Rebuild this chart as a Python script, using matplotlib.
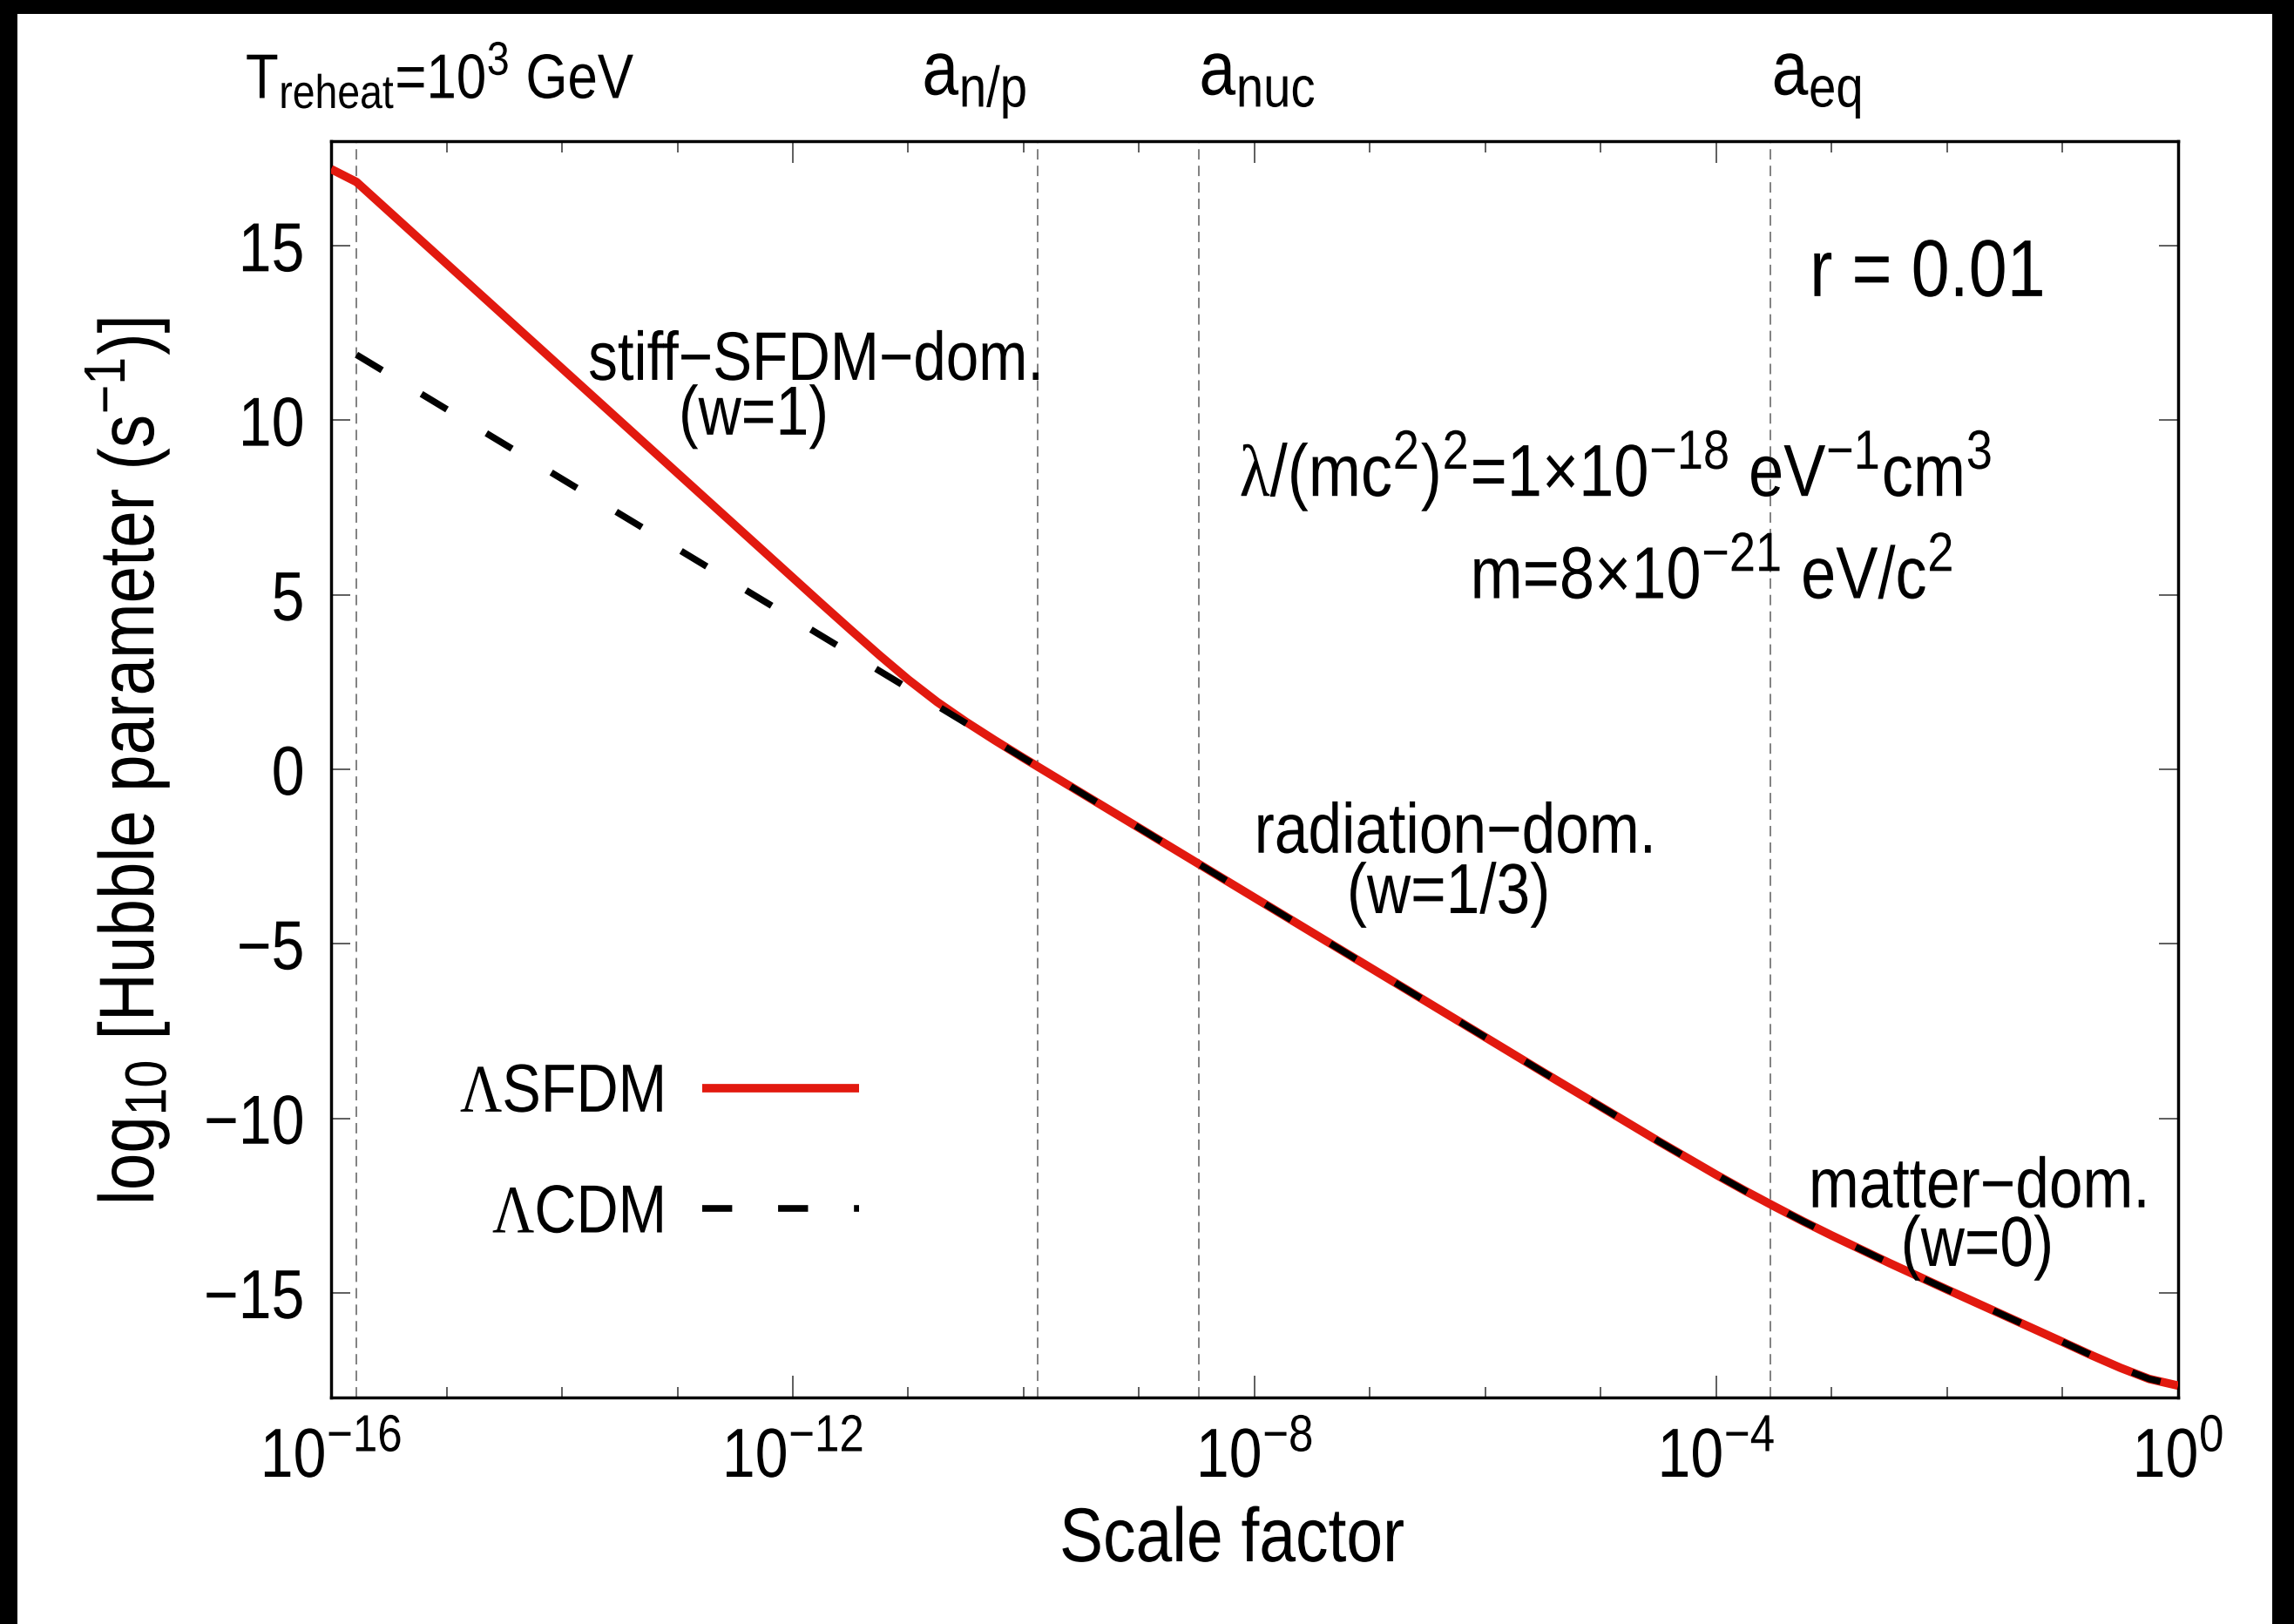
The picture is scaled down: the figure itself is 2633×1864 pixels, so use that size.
import numpy as np
import matplotlib
matplotlib.use("Agg")
import matplotlib.pyplot as plt
import matplotlib._mathtext as _mathtext
from matplotlib.patches import Rectangle
from matplotlib.patheffects import AbstractPathEffect
from matplotlib.transforms import Affine2D
from matplotlib.ticker import FixedLocator, LogFormatterMathtext

# slightly larger super/subscripts than the mathtext default
_mathtext.SHRINK_FACTOR = 0.75

plt.rcParams["font.family"] = ["Liberation Sans", "DejaVu Sans"]
plt.rcParams["mathtext.fontset"] = "custom"
plt.rcParams["mathtext.rm"] = "Liberation Sans"
plt.rcParams["mathtext.it"] = "Liberation Sans:italic"
plt.rcParams["mathtext.bf"] = "Liberation Sans:bold"
plt.rcParams["mathtext.cal"] = "Liberation Serif"
plt.rcParams["mathtext.default"] = "regular"

# ---- data: log10(scale factor) and log10(H / s^-1) ----
sfdm_loga = [-16.0, -15.78, -15.5, -15.0, -14.5, -14.0, -13.5, -13.0, -12.5, -12.0,
             -11.75, -11.5, -11.25, -11.0, -10.75, -10.5, -10.25, -10.0, -9.5, -9.0,
             -8.5, -8.0, -7.5, -7.0, -6.5, -6.0, -5.5, -5.0, -4.5, -4.0, -3.75, -3.5,
             -3.25, -3.0, -2.5, -2.0, -1.5, -1.0, -0.75, -0.5, -0.25, 0.0]
sfdm_logH = [17.20, 16.83, 15.99, 14.49, 12.99, 11.49, 9.99, 8.49, 6.99, 5.49,
             4.74, 4.00, 3.27, 2.57, 1.93, 1.36, 0.83, 0.32, -0.68, -1.68,
             -2.68, -3.68, -4.68, -5.68, -6.68, -7.68, -8.68, -9.67, -10.66, -11.62, -12.08, -12.52,
             -12.95, -13.36, -14.15, -14.91, -15.66, -16.41, -16.79, -17.15, -17.47, -17.66]

cdm_loga = [-15.78, -15.5, -15.0, -14.5, -14.0, -13.5, -13.0, -12.5, -12.0, -11.5,
            -11.0, -10.5, -10.0, -9.5, -9.0, -8.5, -8.0, -7.5, -7.0, -6.5,
            -6.0, -5.5, -5.0, -4.5, -4.0, -3.75, -3.5, -3.25, -3.0, -2.5,
            -2.0, -1.5, -1.0, -0.75, -0.5, -0.25, 0.0]
cdm_logH = [11.88, 11.32, 10.32, 9.32, 8.32, 7.32, 6.32, 5.32, 4.32, 3.32,
            2.32, 1.32, 0.32, -0.68, -1.68, -2.68, -3.68, -4.68, -5.68, -6.68,
            -7.68, -8.68, -9.67, -10.66, -11.62, -12.08, -12.52, -12.95, -13.36, -14.15,
            -14.91, -15.66, -16.41, -16.79, -17.15, -17.47, -17.66]

# characteristic scale factors (log10)
epoch_names = ["reheat", "n/p", "nuc", "eq"]
epoch_loga = [-15.78, -9.88, -8.48, -3.53]

x_major = [-16, -12, -8, -4, 0]
y_major = [-15, -10, -5, 0, 5, 10, 15]

RED = "#e2190f"
W, H = 2633, 1865
STRETCH = 1.17


class VerticalStretch(AbstractPathEffect):
    """Draw glyphs taller than wide, scaled about a given height (font units)."""

    def __init__(self, factor, anchor=0.0):
        super().__init__()
        self._factor = factor
        self._anchor = anchor

    def draw_path(self, renderer, gc, tpath, affine, rgbFace=None):
        stretch = (Affine2D().translate(0, -self._anchor)
                   .scale(1, self._factor).translate(0, self._anchor))
        renderer.draw_path(gc, tpath, stretch + affine, rgbFace)


def tall(anchor=0.0):
    return [VerticalStretch(STRETCH, anchor)]


fig = plt.figure(figsize=(W / 100, H / 100), dpi=100)
fig.patch.set_facecolor("black")
fig.add_artist(Rectangle((20 / W, 0), (2608 - 20) / W, (H - 17) / H,
                         transform=fig.transFigure, facecolor="white",
                         edgecolor="none", zorder=-1))

ax = fig.add_axes([380 / W, 1 - 1605 / H, 2120 / W, 1442 / H])
ax.set_xscale("log")
ax.set_xlim(1e-16, 1.0)
ax.set_ylim(-18, 18)

# epoch markers
for la in epoch_loga:
    ax.axvline(10.0 ** la, color="#5e5e5e", lw=1.1, ls=(0, (7.8, 4.6)), zorder=1)

ax.plot(10.0 ** np.array(sfdm_loga), sfdm_logH, color=RED, lw=7,
        solid_capstyle="butt", solid_joinstyle="round",
        label=r"$\mathcal{\Lambda}$SFDM", zorder=3)
ax.plot(10.0 ** np.array(cdm_loga), cdm_logH, color="black", lw=5.5,
        ls=(0, (4.5, 6.9)), label=r"$\mathcal{\Lambda}$CDM", zorder=4)

# axes styling
for s in ax.spines.values():
    s.set_linewidth(2.5)
ax.xaxis.set_major_locator(FixedLocator([10.0 ** v for v in x_major]))
ax.xaxis.set_minor_locator(FixedLocator([10.0 ** v for v in range(-16, 1)]))
ax.xaxis.set_major_formatter(LogFormatterMathtext())
ax.xaxis.set_minor_formatter(plt.NullFormatter())
ax.yaxis.set_major_locator(FixedLocator(y_major))
ax.yaxis.set_minor_locator(plt.NullLocator())
ax.tick_params(which="both", direction="in", top=True, right=True,
               width=1.1, color="#333333", labelsize=49)
ax.tick_params(axis="x", which="major", length=18, pad=20)
ax.tick_params(axis="x", which="minor", length=9)
ax.tick_params(axis="y", which="major", length=16, pad=22)

ax.set_xlabel("Scale factor", fontsize=54, va="baseline", path_effects=tall())
ax.xaxis.set_label_coords(0.4877, -0.1304)
fig.text(146 / W, 1 - 875 / H, r"log$_{10}$ [Hubble parameter (s$^{-1}$)]",
         rotation=90, ha="center", va="center", fontsize=55, path_effects=tall(36))

# epoch labels above the frame
xt = ax.get_xaxis_transform()
ax.text(10.0 ** -16.74, 1.034, r"T$_{\rm reheat}$=10$^3$ GeV", transform=xt,
        fontsize=44.5, ha="left", va="baseline", path_effects=tall())
ax.text(10.0 ** -10.88, 1.037, r"a$_{\rm n/p}$", transform=xt,
        fontsize=54, ha="left", va="baseline", path_effects=tall())
ax.text(10.0 ** -8.48, 1.037, r"a$_{\rm nuc}$", transform=xt,
        fontsize=54, ha="left", va="baseline", path_effects=tall())
ax.text(10.0 ** -3.52, 1.037, r"a$_{\rm eq}$", transform=xt,
        fontsize=54, ha="left", va="baseline", path_effects=tall())

# annotations inside the frame
notes = [
    (-11.80, 11.16, "stiff\u2212SFDM\u2212dom.", 48.5),
    (-12.34, 9.59, "(w=1)", 49),
    (-6.26, -2.39, "radiation\u2212dom.", 50),
    (-6.32, -4.12, "(w=1/3)", 50),
    (-1.72, -12.55, "matter\u2212dom.", 50),
    (-1.74, -14.23, "(w=0)", 50),
    (-2.17, 13.56, "r = 0.01", 57),
    (-4.87, 7.82,
     r"$\mathcal{\lambda}$/(mc$^2$)$^2$=1$\times$10$^{-18}$ eV$^{-1}$cm$^3$", 52),
    (-4.04, 4.89, r"m=8$\times$10$^{-21}$ eV/c$^2$", 52),
]
for lx, ly, txt, fs in notes:
    ax.text(10.0 ** lx, ly, txt, fontsize=fs, ha="center", va="baseline",
            path_effects=tall())

leg = ax.legend(loc="center right", bbox_to_anchor=(0.286, 0.194), frameon=False,
                markerfirst=False, fontsize=48, handlelength=2.7, handletextpad=0.67,
                labelspacing=1.15, borderpad=0, borderaxespad=0)
for t in leg.get_texts():
    t.set_path_effects(tall(36))

fig.canvas.draw()
for tk in ax.xaxis.get_major_ticks():
    tk.label1.set_path_effects(tall(100))
for tk in ax.yaxis.get_major_ticks():
    tk.label1.set_path_effects(tall(36))

fig.savefig("out.png", dpi=100)
